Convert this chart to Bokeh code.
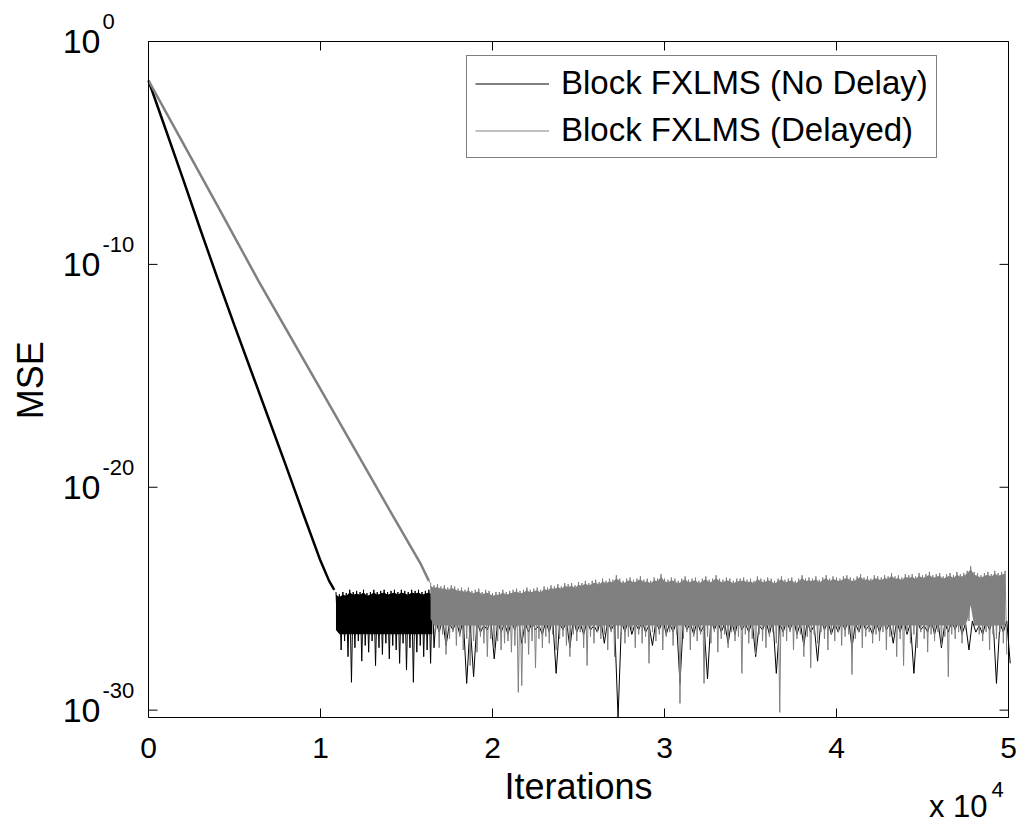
import math
from bokeh.plotting import figure
from bokeh.models import Range1d, Legend, LegendItem
from bokeh.core.properties import value
from bokeh.embed import file_html
from bokeh.resources import INLINE

# ---------------- data (values are log10 of the MSE) ----------------
# convergence phase, Block FXLMS without delay
black_decay_iter = [0, 1000, 2000, 3000, 4000, 5000, 6000, 7000, 8000, 9000,
                    10000, 10500, 10800]
black_decay_log = [-1.75, -3.95, -6.15, -8.4, -10.6, -12.75, -14.85, -16.95,
                   -19.05, -21.2, -23.3, -24.2, -24.6]

# convergence phase, delayed Block FXLMS
gray_decay_iter = [0, 2000, 4000, 6400, 8000, 10000, 12000, 14000, 15800, 16300]
gray_decay_log = [-1.75, -4.55, -7.35, -10.75, -12.9, -15.6, -18.3, -21.0,
                  -23.4, -24.2]

# steady-state noise floor, per-bin maximum / minimum
BLACK_FLOOR_START, BLACK_FLOOR_BIN = 10900, 200
black_floor_hi = [-24.7, -24.8, -24.7, -24.75, -24.6, -24.7, -24.65, -24.7, -24.6, -24.75,
                  -24.7, -24.6, -24.7, -24.65, -24.6, -24.7, -24.65, -24.6, -24.7, -24.6,
                  -24.65, -24.7, -24.6, -24.65, -24.6, -24.7, -24.65, -24.6, -24.7]
black_floor_lo = [-26.4, -27.3, -26.9, -27.6, -28.75, -27.2, -26.9, -27.8, -27.1, -27.4,
                  -26.9, -28.0, -27.2, -27.5, -27.0, -27.7, -27.1, -27.3, -27.9, -27.0,
                  -28.2, -27.2, -28.75, -27.4, -27.1, -27.6, -27.3, -27.9, -27.2]

BLACK_TAIL_START, BLACK_TAIL_BIN = 16700, 400
black_tail_hi = [-26.0, -25.9, -26.1, -26.0, -25.9, -26.1, -26.0, -26.2, -25.9, -26.0,
                 -26.1, -26.0, -25.9, -26.1, -26.0, -26.2, -26.0, -25.9, -26.1, -26.0,
                 -25.9, -26.1, -26.0, -26.2, -25.9, -26.0, -26.1, -26.0, -25.9, -26.1,
                 -26.0, -26.2, -26.0, -25.9, -26.1, -26.0, -25.9, -26.1, -26.0, -26.2,
                 -25.9, -26.0, -26.1, -26.0, -25.9, -26.1, -26.0, -26.2, -26.0, -25.9,
                 -26.1, -26.0, -25.9, -26.1, -26.0, -26.2, -25.9, -26.0, -26.1, -26.0,
                 -25.9, -26.1, -26.0, -26.2, -26.0, -25.9, -26.1, -26.0, -25.9, -26.1,
                 -26.0, -26.2, -25.9, -26.0, -26.1, -26.0, -25.9, -26.1, -26.0, -26.2,
                 -26.0, -25.9, -26.1, -26.0]
black_tail_lo = [-26.5, -27.1, -26.4, -26.6, -28.8, -28.5, -26.5, -26.4, -27.7, -26.5,
                 -26.6, -26.4, -27.0, -26.5, -26.4, -26.6, -26.5, -28.35, -26.4, -27.2,
                 -26.5, -26.6, -26.4, -26.5, -27.0, -26.4, -30.33, -26.5, -26.6, -26.4,
                 -26.5, -27.1, -26.4, -26.6, -26.5, -28.8, -26.4, -26.6, -26.5, -28.6,
                 -26.4, -26.5, -27.0, -26.6, -26.4, -26.5, -27.6, -26.4, -26.6, -28.35,
                 -26.5, -26.4, -26.6, -27.1, -26.5, -27.8, -26.4, -26.6, -26.5, -26.4,
                 -27.2, -26.5, -26.4, -26.6, -26.5, -26.4, -27.0, -26.5, -26.6, -28.35,
                 -26.4, -26.5, -26.6, -27.2, -26.5, -26.4, -26.6, -27.3, -26.5, -26.6,
                 -26.4, -28.8, -26.5, -27.9]

GRAY_FLOOR_START, GRAY_FLOOR_BIN = 16400, 200
gray_floor_hi = [-24.3, -24.4, -24.35, -24.45, -24.4, -24.5, -24.4, -24.45, -24.55, -24.5,
                 -24.6, -24.5, -24.65, -24.6, -24.55, -24.7, -24.6, -24.65, -24.75, -24.7,
                 -24.7, -24.6, -24.7, -24.65, -24.6, -24.55, -24.65, -24.6, -24.5, -24.6,
                 -24.55, -24.5, -24.6, -24.45, -24.5, -24.4, -24.45, -24.35, -24.45, -24.3,
                 -24.35, -24.3, -24.4, -24.25, -24.3, -24.2, -24.3, -24.2, -24.15, -24.25,
                 -24.1, -24.2, -24.1, -24.15, -23.95, -24.1, -24.2, -24.1, -24.05, -24.15,
                 -24.1, -24.0, -24.15, -24.1, -24.2, -24.05, -24.1, -23.9, -24.1, -24.15,
                 -24.05, -24.1, -24.2, -24.1, -24.0, -24.15, -24.1, -24.05, -24.2, -24.1,
                 -24.0, -24.15, -24.1, -23.95, -24.1, -24.15, -24.05, -24.1, -24.2, -24.1,
                 -24.1, -24.05, -24.15, -24.1, -24.2, -24.0, -24.1, -24.15, -24.05, -24.1,
                 -24.2, -24.1, -24.0, -24.15, -24.1, -24.05, -24.2, -24.1, -23.95, -24.1,
                 -24.05, -24.1, -24.0, -24.15, -24.05, -23.95, -24.1, -24.0, -24.05, -24.1,
                 -24.0, -23.95, -24.05, -24.1, -24.0, -23.9, -24.05, -24.0, -24.1, -23.95,
                 -24.0, -24.05, -23.95, -24.0, -23.85, -24.0, -23.95, -24.05, -23.9, -23.95,
                 -23.9, -24.0, -23.85, -23.95, -23.9, -23.8, -23.95, -23.9, -23.85, -24.0,
                 -23.9, -23.85, -23.95, -23.8, -23.9, -23.85, -23.75, -23.55, -23.8, -23.85,
                 -23.95, -23.85, -23.8, -23.9, -23.75, -23.85, -23.8, -23.75]
gray_floor_lo = [-25.9, -26.4, -27.2, -26.6, -27.5, -26.8, -26.5, -27.1, -26.7, -27.3,
                 -26.8, -28.0, -26.9, -27.4, -26.7, -27.0, -27.6, -26.8, -27.2, -26.9,
                 -27.3, -27.0, -26.9, -27.4, -27.1, -29.2, -28.9, -27.0, -27.5, -26.9,
                 -28.1, -26.8, -27.2, -26.7, -27.0, -26.6, -27.3, -26.8, -26.7, -27.1,
                 -27.6, -26.6, -26.9, -26.5, -27.2, -28.0, -26.7, -27.0, -26.5, -26.8,
                 -26.6, -27.3, -26.5, -27.6, -26.8, -26.5, -27.0, -26.7, -26.4, -27.2,
                 -26.6, -27.0, -26.7, -27.9, -26.5, -26.9, -26.6, -27.3, -26.7, -26.5,
                 -27.1, -26.6, -29.7, -26.8, -26.5, -27.3, -26.7, -26.9, -26.6, -28.8,
                 -26.7, -27.0, -26.5, -27.4, -26.8, -26.6, -27.2, -26.5, -26.9, -26.7,
                 -28.35, -26.6, -27.0, -26.8, -27.5, -26.6, -26.9, -27.2, -26.7, -26.5,
                 -27.0, -30.1, -26.7, -26.9, -26.5, -27.3, -26.8, -26.6, -27.6, -26.7,
                 -28.1, -26.6, -27.0, -26.5, -26.8, -27.3, -26.6, -26.9, -26.5, -27.1,
                 -26.7, -26.6, -28.4, -26.8, -26.5, -27.2, -26.7, -26.5, -27.0, -26.6,
                 -26.9, -26.5, -27.3, -26.7, -26.6, -27.6, -26.8, -28.0, -26.5, -27.0,
                 -26.6, -27.2, -26.5, -26.8, -27.4, -26.6, -26.9, -26.5, -27.1, -26.7,
                 -28.5, -26.6, -26.8, -26.5, -27.0, -26.4, -26.0, -25.3, -26.2, -26.6,
                 -26.9, -26.5, -27.3, -26.6, -26.8, -26.5, -27.0, -27.5]

# level down to which each noise floor is practically solid
BLACK_CORE_LOG = -26.6
GRAY_CORE_LOG = -26.2
# the solid part stops a little below the bin maxima, leaving the peaks as thin strokes
CORE_TOP_DROP = 0.12

x_ticks = [0, 10000, 20000, 30000, 40000, 50000]
x_tick_labels = ["0", "1", "2", "3", "4", "5"]
y_tick_exponents = [0, -10, -20, -30]
X_MIN, X_MAX = 0, 50000
Y_TOP_EXP, Y_BOTTOM_EXP = 0, -30.33

# ---------------- page geometry (pixels) ----------------
CANVAS_W, CANVAS_H = 1024, 827
BOX_L, BOX_R, BOX_T, BOX_B = 148, 1008, 41, 717
TICK_LEN = 9

FONT = "Liberation Sans"
BLACK = "#000000"
GRAY = "#808080"

px_per_iter = (BOX_R - BOX_L) / (X_MAX - X_MIN)
px_per_dec = (BOX_B - BOX_T) / (Y_TOP_EXP - Y_BOTTOM_EXP)


def to_mse(logs):
    return [10.0 ** v for v in logs]


def bin_trace(start, width, hi, lo):
    """Alternate each bin's maximum and minimum so the trace sweeps the band."""
    xs, ys = [], []
    for i, (h, l) in enumerate(zip(hi, lo)):
        t = start + i * width
        xs += [t, t + width / 2]
        ys += [10.0 ** h, 10.0 ** l]
    return xs, ys


def bin_core(start, width, hi, lo, core):
    """Solid part of the band: just under each bin's maximum down to the core level."""
    xs = [start + i * width for i in range(len(hi))]
    top = [10.0 ** (h - CORE_TOP_DROP) for h in hi]
    bottom = [10.0 ** max(l, core) for l in lo]
    return xs, top, bottom


bf_x, bf_y = bin_trace(BLACK_FLOOR_START, BLACK_FLOOR_BIN, black_floor_hi, black_floor_lo)
bt_x, bt_y = bin_trace(BLACK_TAIL_START, BLACK_TAIL_BIN, black_tail_hi, black_tail_lo)
gf_x, gf_y = bin_trace(GRAY_FLOOR_START, GRAY_FLOOR_BIN, gray_floor_hi, gray_floor_lo)
bc_x, bc_top, bc_bot = bin_core(BLACK_FLOOR_START, BLACK_FLOOR_BIN,
                                black_floor_hi, black_floor_lo, BLACK_CORE_LOG)
gc_x, gc_top, gc_bot = bin_core(GRAY_FLOOR_START, GRAY_FLOOR_BIN,
                                gray_floor_hi, gray_floor_lo, GRAY_CORE_LOG)

# the frame spans the whole page; the axes box sits inside it
x_range = Range1d(X_MIN - BOX_L / px_per_iter,
                  X_MAX + (CANVAS_W - BOX_R) / px_per_iter)
y_range = Range1d(10.0 ** (Y_BOTTOM_EXP - (CANVAS_H - BOX_B) / px_per_dec),
                  10.0 ** (Y_TOP_EXP + BOX_T / px_per_dec))

p = figure(width=CANVAS_W, height=CANVAS_H, y_axis_type="log",
           x_range=x_range, y_range=y_range,
           x_axis_location=None, y_axis_location=None,
           output_backend="svg", toolbar_location=None,
           min_border=0)
p.xgrid.visible = False
p.ygrid.visible = False
p.outline_line_color = None
p.background_fill_color = "white"
p.border_fill_color = "white"

# traces: no-delay first, delayed drawn on top
p.line(black_decay_iter, to_mse(black_decay_log), line_color=BLACK, line_width=2.5)
p.varea(x=bc_x, y1=bc_top, y2=bc_bot, fill_color=BLACK)
black_r = p.line(bf_x + bt_x, bf_y + bt_y, line_color=BLACK, line_width=1)
p.line(gray_decay_iter, to_mse(gray_decay_log), line_color=GRAY, line_width=2.5)
p.varea(x=gc_x, y1=gc_top, y2=gc_bot, fill_color=GRAY)
gray_r = p.line([gray_decay_iter[-1]] + gf_x, [10.0 ** gray_decay_log[-1]] + gf_y,
                line_color=GRAY, line_width=1)

# axes box
y_lo, y_hi = 10.0 ** Y_BOTTOM_EXP, 10.0 ** Y_TOP_EXP
p.quad(left=X_MIN, right=X_MAX, bottom=y_lo, top=y_hi,
       fill_color=None, line_color=BLACK, line_width=1)

# inward tick marks on all four sides
dx = TICK_LEN / px_per_iter
dy = TICK_LEN / px_per_dec
n_x = len(x_ticks)
p.segment(x0=x_ticks, y0=[y_lo] * n_x, x1=x_ticks, y1=[10.0 ** (Y_BOTTOM_EXP + dy)] * n_x,
          line_color=BLACK, line_width=1)
p.segment(x0=x_ticks, y0=[y_hi] * n_x, x1=x_ticks, y1=[10.0 ** (Y_TOP_EXP - dy)] * n_x,
          line_color=BLACK, line_width=1)
y_tick_vals = [10.0 ** e for e in y_tick_exponents]
n_y = len(y_tick_vals)
p.segment(x0=[X_MIN] * n_y, y0=y_tick_vals, x1=[X_MIN + dx] * n_y, y1=y_tick_vals,
          line_color=BLACK, line_width=1)
p.segment(x0=[X_MAX] * n_y, y0=y_tick_vals, x1=[X_MAX - dx] * n_y, y1=y_tick_vals,
          line_color=BLACK, line_width=1)

# x tick labels (in units of 10^4 iterations)
p.text(x=x_ticks, y=[y_lo] * n_x, text=x_tick_labels, y_offset=30,
       text_align="center", text_baseline="middle",
       text_font=value(FONT), text_font_size=value("30px"), text_color=BLACK)

# y tick labels: 10 with a raised exponent
p.text(x=[X_MIN] * n_y, y=y_tick_vals, text=["10"] * n_y, x_offset=-48,
       text_align="right", text_baseline="middle",
       text_font=value(FONT), text_font_size=value("34px"), text_color=BLACK)
p.text(x=[X_MIN] * n_y, y=y_tick_vals, text=[str(e) for e in y_tick_exponents],
       x_offset=-46, y_offset=-20, text_align="left", text_baseline="middle",
       text_font=value(FONT), text_font_size=value("22px"), text_color=BLACK)

# axis titles
p.text(x=[(X_MIN + X_MAX) / 2], y=[y_lo], text=["Iterations"], y_offset=69,
       text_align="center", text_baseline="middle",
       text_font=value(FONT), text_font_size=value("36px"), text_color=BLACK)
p.text(x=[X_MIN], y=[10.0 ** -15.2], text=["MSE"], x_offset=-118, angle=math.pi / 2,
       text_align="center", text_baseline="middle",
       text_font=value(FONT), text_font_size=value("36px"), text_color=BLACK)

# multiplier of the iteration axis
p.text(x=[X_MAX], y=[y_lo], text=["x 10"], x_offset=-21, y_offset=89,
       text_align="right", text_baseline="middle",
       text_font=value(FONT), text_font_size=value("31px"), text_color=BLACK)
p.text(x=[X_MAX], y=[y_lo], text=["4"], x_offset=-17, y_offset=72,
       text_align="left", text_baseline="middle",
       text_font=value(FONT), text_font_size=value("22px"), text_color=BLACK)

legend = Legend(items=[LegendItem(label="Block FXLMS (No Delay)", renderers=[black_r]),
                       LegendItem(label="Block FXLMS (Delayed)", renderers=[gray_r])],
                location=(466, CANVAS_H - 158), margin=0, padding=8, spacing=9,
                glyph_width=74, glyph_height=37, label_height=37,
                label_standoff=12, label_text_font=FONT,
                label_text_font_size="33px", label_text_color=BLACK,
                border_line_color=BLACK, border_line_width=1,
                background_fill_color="white", background_fill_alpha=1.0)
p.add_layout(legend)

open("out.html", "w").write(file_html(p, INLINE))
